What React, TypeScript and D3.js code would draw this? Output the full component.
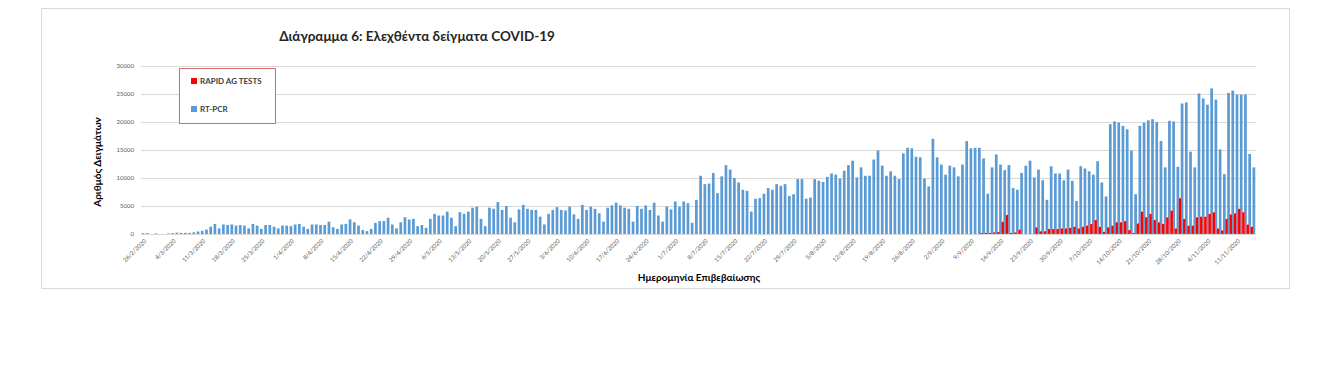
import React from "react";
import * as d3 from "d3";

const startDate = new Date(2020, 1, 26);
const endDate = new Date(2020, 10, 16);
const categories: Date[] = d3.timeDay.range(startDate, endDate);

const rtPcr: number[] = [
  150, 150, 0, 100, 0, 0, 100, 150, 250, 200,
  200, 200, 300, 450, 550, 800, 1300, 1800, 1000, 1700,
  1600, 1700, 1500, 1600, 1500, 1000, 1800, 1500, 900, 1600,
  1600, 1300, 1000, 1500, 1500, 1400, 1700, 1800, 1300, 900,
  1700, 1700, 1600, 1600, 2200, 1200, 900, 1700, 1800, 2600,
  2100, 1500, 700, 500, 900, 2000, 2300, 2300, 2900, 1700,
  1000, 2100, 3000, 2600, 2700, 1400, 1600, 1100, 2700, 3600,
  3300, 3300, 4000, 2900, 1400, 3900, 3600, 4000, 4700, 4900,
  2700, 1400, 4700, 4500, 5700, 4300, 5000, 2900, 2100, 4400,
  5200, 4500, 4300, 4300, 3100, 1700, 3600, 4300, 4800, 4300,
  4200, 4900, 3500, 2700, 5200, 4300, 4900, 4500, 3700, 2200,
  4700, 5100, 5600, 5100, 4700, 4500, 2200, 5000, 4500, 5100,
  4300, 5600, 3300, 2200, 4900, 4400, 5800, 4900, 5800, 5500,
  2000, 6100, 10400, 8900, 9000, 10900, 7300, 10300, 12300, 11500,
  10000, 9200, 7900, 7700, 4000, 6300, 6400, 7200, 8200, 7900,
  8900, 8600, 8900, 6800, 7100, 9800, 9800, 6300, 6500, 9800,
  9500, 9300, 10200, 10800, 10600, 9900, 11300, 12300, 13100, 10100,
  11900, 10400, 10400, 13300, 14900, 12200, 10400, 11200, 10400, 9800,
  14400, 15400, 15300, 13800, 13700, 9900, 8500, 17000, 13700, 12400,
  10600, 12200, 11900, 10300, 12400, 16600, 15300, 15400, 15400, 13500,
  7200, 11900, 14200, 12400, 11400, 12300, 8200, 7900, 10900, 12200,
  13100, 10100, 11500, 9600, 6100, 12100, 10800, 10800, 9600, 11500,
  9500, 5900, 12100, 11700, 11200, 10600, 13000, 9200, 6700, 19600,
  20100, 19900, 19300, 18700, 14900, 7100, 19300, 19900, 20300, 20500,
  20000, 16600, 11900, 20200, 20100, 12000, 23300, 23500, 14700, 11900,
  25100, 24200, 23100, 26000, 24000, 15100, 10700, 25200, 25600, 24900,
  24900, 24900, 14300, 11900,
];

// Rapid antigen tests, starting 12/9/2020 (earlier days: none)
const rapidStart = new Date(2020, 8, 12);
const rapidAg: number[] = [
  200, 200, 200, 300, 400, 2200, 3400, 200, 300, 800,
  0, 0, 0, 1200, 500, 500, 900, 900, 900, 1000,
  1000, 1100, 1300, 1000, 1300, 1500, 1800, 2500, 1300, 400,
  1200, 1500, 2100, 2100, 2300, 700, 200, 1900, 4000, 3000,
  3600, 2500, 2100, 1800, 3000, 4200, 1000, 6400, 2700, 1500,
  1500, 3000, 3100, 3100, 3600, 3900, 1000, 650, 2700, 3500,
  3700, 4500, 3900, 1700, 1300,
];

const yTicks: number[] = [0, 5000, 10000, 15000, 20000, 25000, 30000];

const xTickLabels: string[] = [
  "26/2/2020", "4/3/2020", "11/3/2020", "18/3/2020", "25/3/2020", "1/4/2020",
  "8/4/2020", "15/4/2020", "22/4/2020", "29/4/2020", "6/5/2020", "13/5/2020",
  "20/5/2020", "27/5/2020", "3/6/2020", "10/6/2020", "17/6/2020", "24/6/2020",
  "1/7/2020", "8/7/2020", "15/7/2020", "22/7/2020", "29/7/2020", "5/8/2020",
  "12/8/2020", "19/8/2020", "26/8/2020", "2/9/2020", "9/9/2020", "16/9/2020",
  "23/9/2020", "30/9/2020", "7/10/2020", "14/10/2020", "21/10/2020",
  "28/10/2020", "4/11/2020", "11/11/2020",
];

const seriesNames = ["RAPID AG TESTS", "RT-PCR"];
const seriesColors = ["#FF0000", "#5B9BD5"];

const fmt = (d: Date) => `${d.getDate()}/${d.getMonth() + 1}/${d.getFullYear()}`;

export default function App() {
  const W = 1332;
  const H = 386;
  const left = 141;
  const right = 1256;
  const top = 66;
  const bottom = 234;

  const keys = categories.map(fmt);
  const x = d3.scaleBand<string>().domain(keys).range([left, right]).paddingInner(0.36).paddingOuter(0.18);
  const y = d3.scaleLinear().domain([0, 30000]).range([bottom, top]);
  const bw = x.bandwidth();
  const rapidOffset = Math.round(d3.timeDay.count(startDate, rapidStart));

  const font = "Lato, 'Open Sans', sans-serif";

  return (
    <svg width={W} height={H} style={{ position: "absolute", left: 0, top: 0, background: "#fff" }}>
      <rect x={41.5} y={8.5} width={1248} height={280} fill="#fff" stroke="#d9d9d9" />
      <text x={417} y={41} textAnchor="middle" fontFamily={font} fontWeight="bold" fontSize={13.5} fill="#262626">
        Διάγραμμα 6: Ελεχθέντα δείγματα COVID-19
      </text>
      {yTicks.map((t) => (
        <g key={t}>
          <line x1={left} x2={right} y1={Math.round(y(t)) + 0.5} y2={Math.round(y(t)) + 0.5} stroke="#d9d9d9" strokeWidth={1} />
          <text x={134} y={y(t)} dy="0.35em" textAnchor="end" fontFamily={font} fontSize={6} fill="#595959">
            {t}
          </text>
        </g>
      ))}
      {rtPcr.map((v, i) => {
        const cx = (x(keys[i]) as number) + bw / 2;
        return (
          <rect key={"b" + i} x={cx - bw / 2} y={y(v)} width={bw} height={bottom - y(v)} fill={seriesColors[1]} />
        );
      })}
      {rapidAg.map((v, j) => {
        const i = j + rapidOffset;
        if (v <= 0 || i >= keys.length) return null;
        const cx = (x(keys[i]) as number) + bw / 2 - 2;
        return (
          <rect key={"r" + i} x={cx - bw / 2} y={y(v)} width={bw} height={bottom - y(v)} fill={seriesColors[0]} stroke="#ffffff" strokeOpacity={0.35} strokeWidth={0.4} />
        );
      })}
      <line x1={left} x2={right} y1={bottom + 0.5} y2={bottom + 0.5} stroke="#d9d9d9" />
      {xTickLabels.map((lab) => {
        const cx = (x(lab) as number) + bw / 2;
        return (
          <text key={lab} transform={`translate(${cx + 2},${240}) rotate(-45)`} textAnchor="end" dy="0.35em" fontFamily={font} fontSize={6} fill="#595959">
            {lab}
          </text>
        );
      })}
      <text transform={`translate(97,162) rotate(-90)`} textAnchor="middle" dy="0.35em" fontFamily={font} fontWeight="bold" fontSize={10} fill="#000">
        Αριθμός Δειγμάτων
      </text>
      <text x={699} y={281} textAnchor="middle" fontFamily={font} fontWeight="bold" fontSize={10} fill="#000">
        Ημερομηνία Επιβεβαίωσης
      </text>
      <rect x={179.5} y={68.5} width={96} height={55} fill="#fff" stroke="#d9686a" strokeWidth={1} />
      {seriesNames.map((n, k) => (
        <g key={n}>
          <rect x={191} y={78 + k * 28} width={6} height={6} fill={seriesColors[k]} />
          <text x={200} y={81 + k * 28} dy="0.35em" fontFamily={font} fontWeight="bold" fontSize={8} fill="#404040">
            {n}
          </text>
        </g>
      ))}
    </svg>
  );
}
